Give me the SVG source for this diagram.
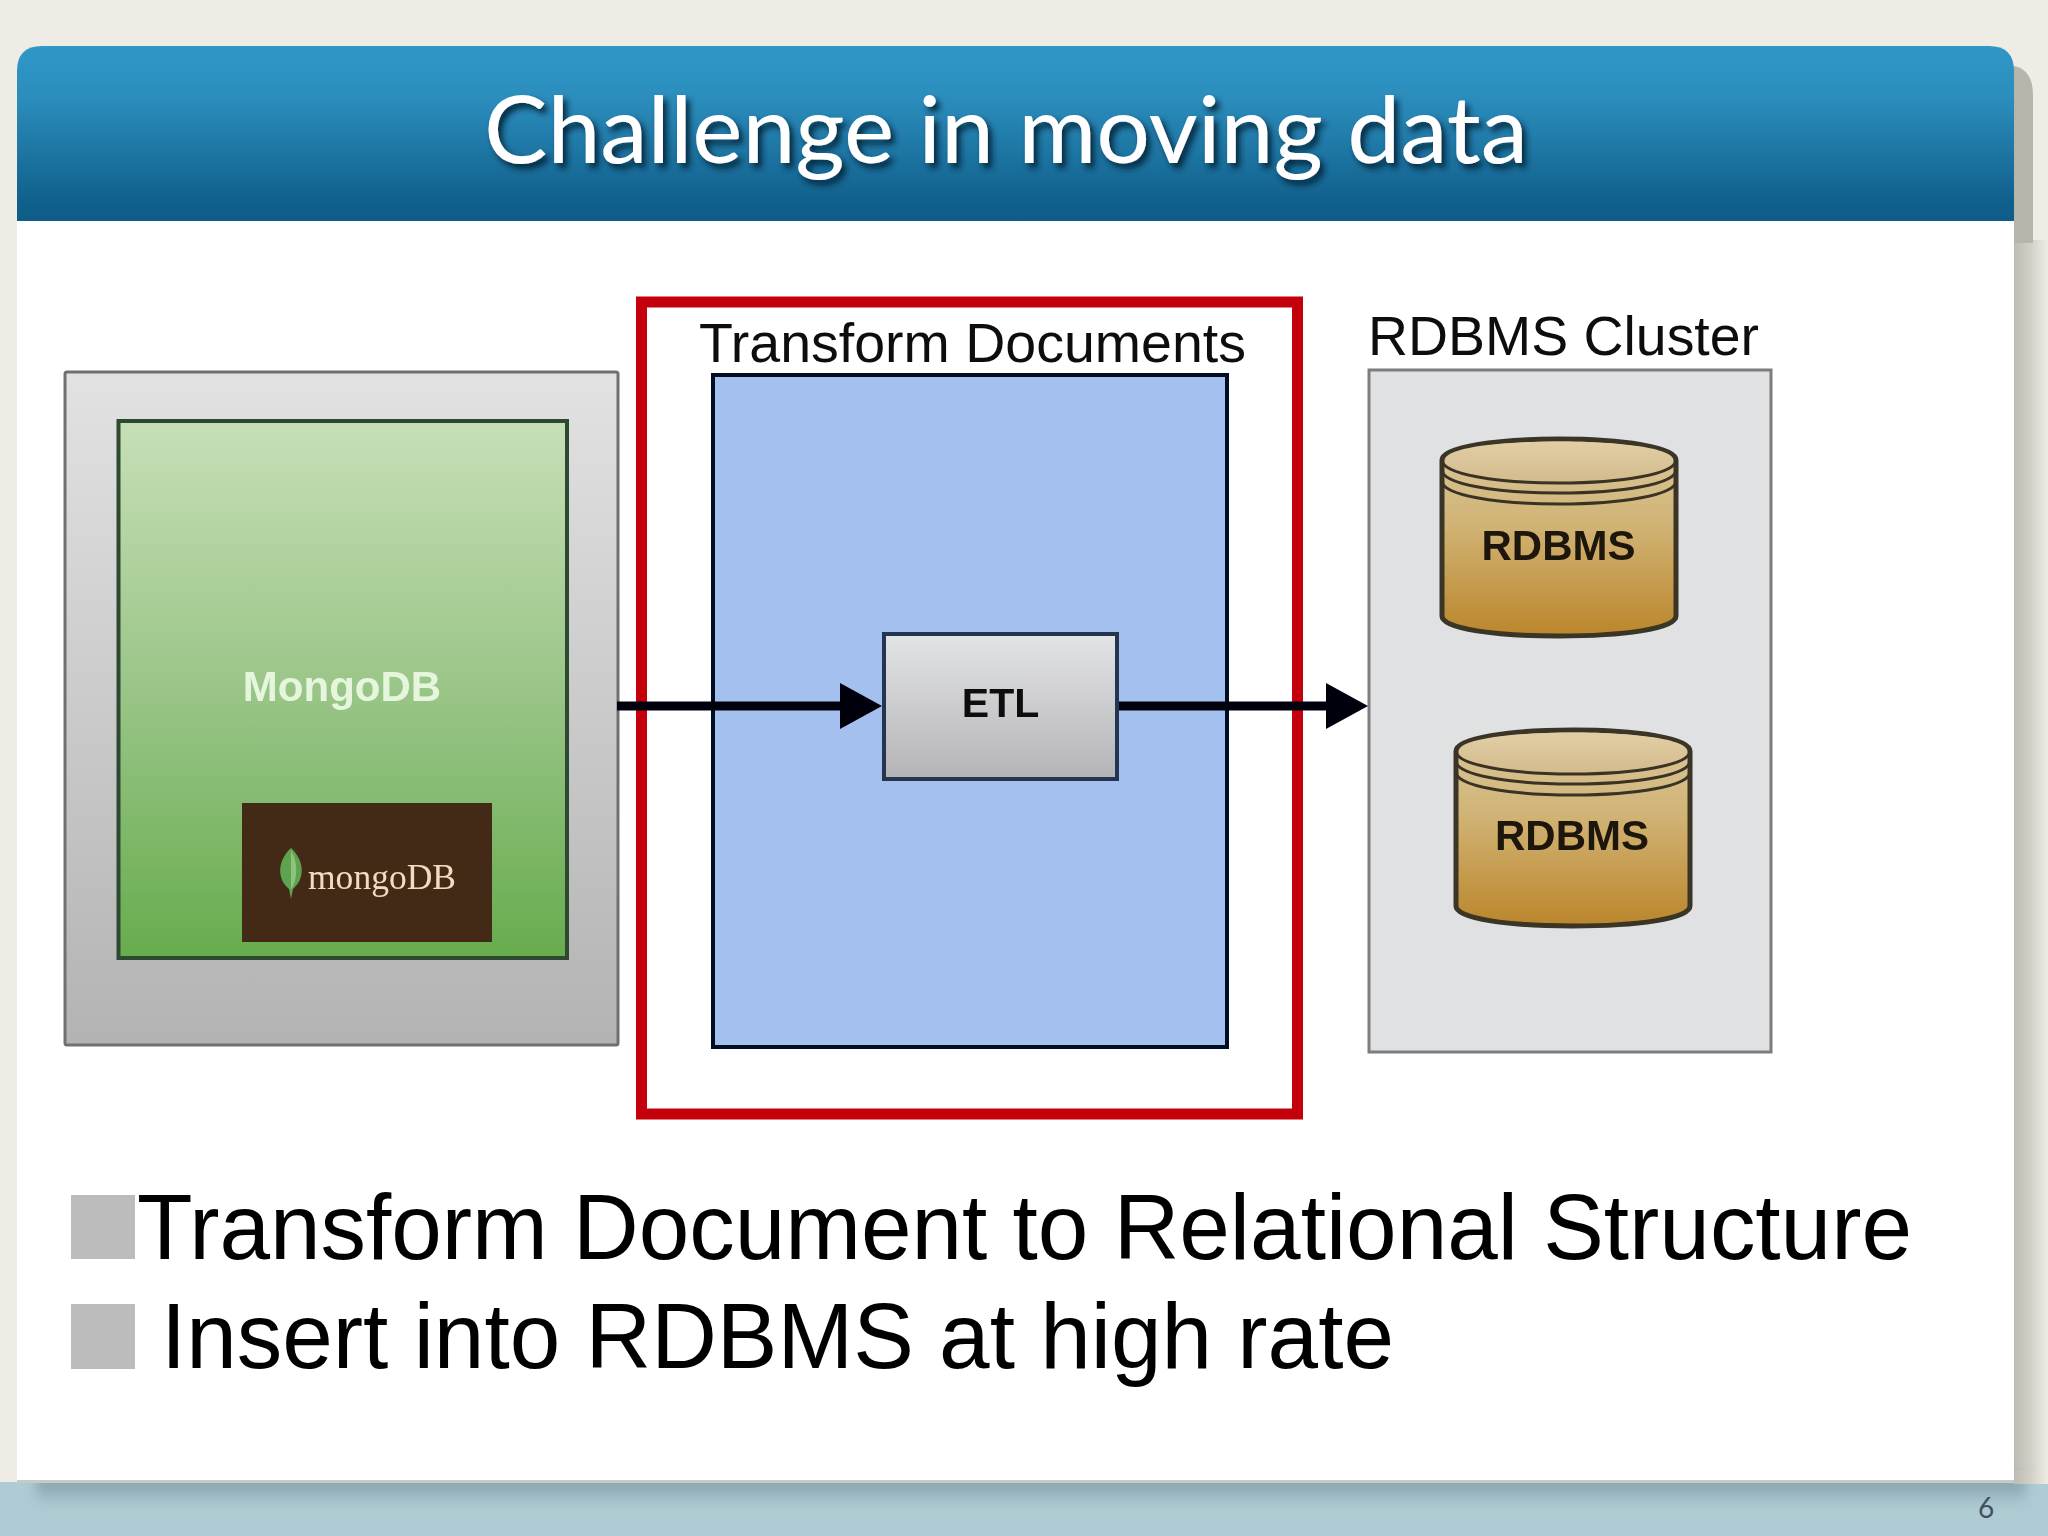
<svg xmlns="http://www.w3.org/2000/svg" width="2048" height="1536" viewBox="0 0 2048 1536">
<defs>
<linearGradient id="hdr" x1="0" y1="0" x2="0" y2="1"><stop offset="0" stop-color="#2f98c9"/><stop offset=".3" stop-color="#2b8dbc"/><stop offset=".9" stop-color="#105f8b"/><stop offset="1" stop-color="#0f5c88"/></linearGradient>
<linearGradient id="outer" x1="0" y1="0" x2="0" y2="1"><stop offset="0" stop-color="#e2e2e2"/><stop offset="1" stop-color="#b4b3b4"/></linearGradient>
<linearGradient id="green" x1="0" y1="0" x2="0" y2="1"><stop offset="0" stop-color="#c7dfb6"/><stop offset=".5" stop-color="#9ac588"/><stop offset="1" stop-color="#67ac4e"/></linearGradient>
<linearGradient id="etlg" x1="0" y1="0" x2="0" y2="1"><stop offset="0" stop-color="#e3e4e5"/><stop offset="1" stop-color="#b4b4b6"/></linearGradient>
<linearGradient id="cyl" x1="0" y1="0" x2="0" y2="1"><stop offset="0" stop-color="#dcc99f"/><stop offset=".45" stop-color="#d0b273"/><stop offset="1" stop-color="#bb862b"/></linearGradient>
<linearGradient id="cyltop" x1="0" y1="0" x2="0" y2="1"><stop offset="0" stop-color="#e2cea6"/><stop offset="1" stop-color="#d2bb8c"/></linearGradient>
<linearGradient id="rshadow" x1="0" y1="0" x2="1" y2="0"><stop offset="0" stop-color="#bebbb3"/><stop offset=".5" stop-color="#d3d0c8"/><stop offset="1" stop-color="#eeece4"/></linearGradient>
<linearGradient id="bshadow" x1="0" y1="0" x2="0" y2="1"><stop offset="0" stop-color="#7f9ba8"/><stop offset=".5" stop-color="#94afba"/><stop offset="1" stop-color="#afcbd3"/></linearGradient>
<filter id="ts" x="-5%" y="-30%" width="110%" height="170%"><feDropShadow dx="4" dy="5" stdDeviation="3" flood-color="#041f33" flood-opacity=".9"/></filter>
<filter id="soft"><feGaussianBlur stdDeviation="0.6"/></filter>
<filter id="sb" x="-2%" y="-50%" width="104%" height="200%"><feGaussianBlur stdDeviation="6"/></filter>
<marker id="arrow" markerUnits="userSpaceOnUse" markerWidth="44" markerHeight="46" refX="0" refY="23" orient="auto"><path d="M0 0L42 23L0 46Z" fill="#000010"/></marker>
</defs>
<style>
text{font-family:"Liberation Sans",Arial,sans-serif}
.body{font-size:93px;fill:#000}
.head{font-size:56px;fill:#111}
.lbl{font-size:42px;font-weight:bold;fill:#1a1208}
.band{fill:none;stroke:#3a3225;stroke-width:3}
.cylshape{stroke:#3a3428;stroke-width:5}
.bullet{fill:#bdbcbc}
</style>

<g id="background">
<rect width="2048" height="1536" fill="#eeece4"/>
<rect x="2014" y="240" width="34" height="1245" fill="url(#rshadow)"/>
<path d="M2000 66H2014Q2033 70 2033 95V243H2000Z" fill="#b7b4ac"/>
<rect y="1482" width="2048" height="54" fill="#afcbd3"/>
<g filter="url(#sb)"><rect x="36" y="1476" width="1990" height="30" fill="url(#bshadow)"/></g>
<rect x="17" y="200" width="1997" height="1282" fill="#fff"/>
<rect x="2014" y="1470" width="34" height="14" fill="url(#rshadow)"/>
<rect x="17" y="1480" width="1997" height="3" fill="#c8cac6"/>
<path d="M17 221V71Q17 46 42 46H1989Q2014 46 2014 71V221Z" fill="url(#hdr)"/>
</g>

<g id="title"><text x="484" y="163" font-size="94" fill="#fff" filter="url(#ts)" textLength="1044" lengthAdjust="spacingAndGlyphs" style="font-family:Lato,'Liberation Sans',sans-serif">Challenge in moving data</text></g>

<g filter="url(#soft)">
<g id="mongodb-host"><rect x="65" y="372" width="553" height="673" rx="2" fill="url(#outer)" stroke="#70706f" stroke-width="3"/></g>
<g id="mongodb">
<rect x="118.500" y="421" width="448.500" height="537" fill="url(#green)" stroke="#2d4a32" stroke-width="4"/>
<text x="342" y="701" text-anchor="middle" font-size="42" font-weight="bold" fill="#e6f6dc">MongoDB</text>
</g>
<g id="mongodb-logo">
<rect x="242" y="803" width="250" height="139" fill="#432918"/>
<path d="M291 848C304 860 306 878 293 889L291 899L289 889C276 878 278 860 291 848Z" fill="#5ea24f"/>
<path d="M291 850C298 862 298 878 291 890Z" fill="#8cc47a"/>
<text x="308" y="889" font-size="35" fill="#f0dcc0" textLength="148" lengthAdjust="spacingAndGlyphs" style="font-family:'Liberation Serif',serif">mongoDB</text>
</g>
<g id="transform">
<rect x="641.500" y="302" width="656" height="812" fill="#fff" stroke="#c4000c" stroke-width="11"/>
<text x="699" y="362" class="head" textLength="547" lengthAdjust="spacingAndGlyphs">Transform Documents</text>
<rect x="713" y="375" width="514" height="672" fill="#a3c0ef" stroke="#000824" stroke-width="4"/>
</g>
<g id="rdbms-cluster">
<rect x="1369" y="370" width="402" height="682" fill="#e0e1e3" stroke="#7d7d7d" stroke-width="3"/>
<text x="1368" y="355" class="head" textLength="391" lengthAdjust="spacingAndGlyphs">RDBMS Cluster</text>
</g>
<g id="rdbms-1">
<path class="cylshape" d="M1442 460C1442 447 1496 439 1559 439C1622 439 1676 447 1676 460V616C1676 629 1622 636 1559 636C1496 636 1442 629 1442 616Z" fill="url(#cyl)"/>
<path d="M1445 460C1445 448 1498 441.500 1559 441.500C1620 441.500 1673 448 1673 460C1673 474 1620 483 1559 483C1498 483 1445 474 1445 460Z" fill="url(#cyltop)"/>
<path class="band" d="M1442 460C1442 474 1496 483 1559 483C1622 483 1676 474 1676 460M1442 470C1442 484 1496 493 1559 493C1622 493 1676 484 1676 470M1442 481C1442 495 1496 504 1559 504C1622 504 1676 495 1676 481"/>
<text x="1558.500" y="560" text-anchor="middle" class="lbl">RDBMS</text>
</g>
<g id="rdbms-2">
<path class="cylshape" d="M1456 751C1456 738 1510 730 1573 730C1636 730 1690 738 1690 751V906C1690 919 1636 926 1573 926C1510 926 1456 919 1456 906Z" fill="url(#cyl)"/>
<path d="M1459 751C1459 739 1512 732.500 1573 732.500C1634 732.500 1687 739 1687 751C1687 765 1634 774 1573 774C1512 774 1459 765 1459 751Z" fill="url(#cyltop)"/>
<path class="band" d="M1456 751C1456 765 1510 774 1573 774C1636 774 1690 765 1690 751M1456 761C1456 775 1510 784 1573 784C1636 784 1690 775 1690 761M1456 772C1456 786 1510 795 1573 795C1636 795 1690 786 1690 772"/>
<text x="1572" y="850" text-anchor="middle" class="lbl">RDBMS</text>
</g>
<g id="connectors" fill="none" stroke="#000010" stroke-width="9">
<path d="M617 706H840" marker-end="url(#arrow)"/>
<path d="M1118 706H1326" marker-end="url(#arrow)"/>
</g>
<g id="etl">
<rect x="884" y="634" width="233" height="145" fill="url(#etlg)" stroke="#26344f" stroke-width="4"/>
<text x="1000.500" y="717" text-anchor="middle" font-size="41" font-weight="bold" fill="#111">ETL</text>
</g>
</g>

<g id="bullets">
<rect class="bullet" x="71" y="1195" width="64" height="64"/>
<text x="137" y="1259" class="body" textLength="1775" lengthAdjust="spacingAndGlyphs">Transform Document to Relational Structure</text>
<rect class="bullet" x="71" y="1304" width="64" height="65"/>
<text x="161" y="1368" class="body" textLength="1233" lengthAdjust="spacingAndGlyphs">Insert into RDBMS at high rate</text>
</g>
<g id="page-number"><text x="1986" y="1518" text-anchor="middle" font-size="28" fill="#3f525c" style="font-family:Lato,'Liberation Sans',sans-serif">6</text></g>
</svg>
